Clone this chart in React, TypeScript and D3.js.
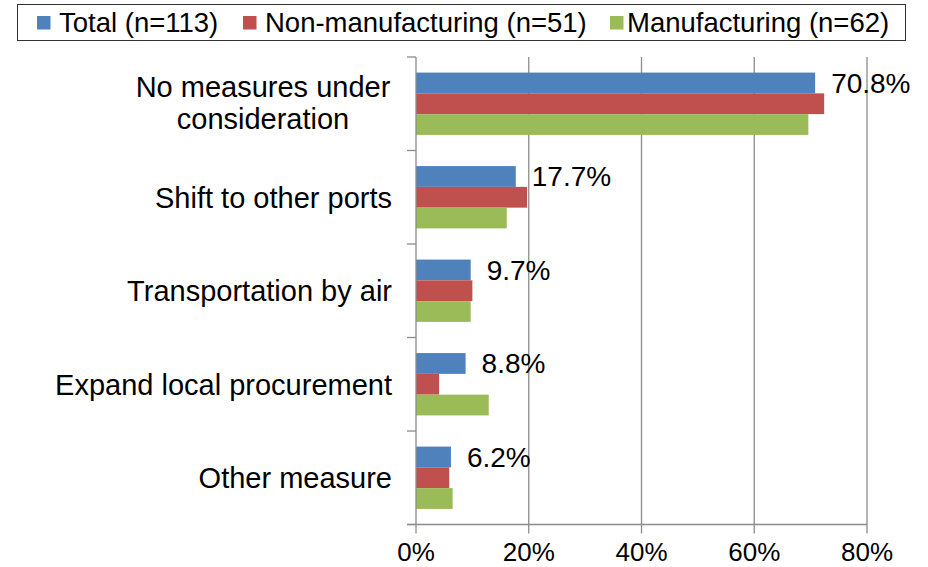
import React from "react";
import * as d3 from "d3";

// Chart values
const categories = [
  "No measures under consideration",
  "Shift to other ports",
  "Transportation by air",
  "Expand local procurement",
  "Other measure",
];
const categoryLines = [
  ["No measures under", "consideration"],
  ["Shift to other ports"],
  ["Transportation by air"],
  ["Expand local procurement"],
  ["Other measure"],
];
const seriesNames = ["Total (n=113)", "Non-manufacturing (n=51)", "Manufacturing (n=62)"];
const totalValues = [70.8, 17.7, 9.7, 8.8, 6.2];
const nonManufacturingValues = [72.4, 19.7, 10.0, 4.1, 5.9];
const manufacturingValues = [69.6, 16.1, 9.7, 12.9, 6.5];
const xTickValues = [0, 20, 40, 60, 80];

const colors = ["#4F81BD", "#C0504D", "#9BBB59"];
const FONT = "'Liberation Sans', Arial, sans-serif";

const width = 928,
  height = 567;
const plot = { left: 416, right: 867, top: 57, bottom: 524.5 };

const App: React.FC = () => {
  const seriesValues = [totalValues, nonManufacturingValues, manufacturingValues];

  const x = d3.scaleLinear().domain([0, 80]).range([plot.left, plot.right]);
  const y = d3.scaleBand<string>().domain(categories).range([plot.top, plot.bottom]).padding(0);
  // Excel-like gap width of 150%
  const inner = d3
    .scaleBand<string>()
    .domain(seriesNames)
    .range([0, y.bandwidth()])
    .paddingInner(0)
    .paddingOuter(0.75);

  const axisColor = "#8c8c8c";
  const boundaries = categories.map((c) => y(c) as number).concat([plot.bottom]);

  // legend layout
  const legendSquareX = [37, 243, 610];
  const legendTextX = [59, 265, 627];

  return (
    <svg
      width={width}
      height={height}
      style={{ position: "absolute", left: 0, top: 0, background: "#fff" }}
      fontFamily={FONT}
    >
      {/* legend */}
      <rect x={17.5} y={4.5} width={888} height={36} fill="#fff" stroke="#333" strokeWidth={1} />
      {seriesNames.map((s, i) => (
        <g key={s}>
          <rect x={legendSquareX[i]} y={16} width={13.5} height={13.5} fill={colors[i]} />
          <text x={legendTextX[i]} y={32} fontSize={27.5} fill="#000">
            {s}
          </text>
        </g>
      ))}

      {/* gridlines */}
      {xTickValues.slice(1).map((t) => (
        <line key={t} x1={x(t)} x2={x(t)} y1={plot.top} y2={plot.bottom} stroke={axisColor} strokeWidth={1.3} />
      ))}

      {/* bars */}
      {categories.map((c, ci) => (
        <g key={c} transform={`translate(0,${y(c)})`}>
          {seriesNames.map((s, si) => (
            <rect
              key={s}
              x={x(0)}
              y={inner(s)}
              width={x(seriesValues[si][ci]) - x(0)}
              height={inner.bandwidth()}
              fill={colors[si]}
            />
          ))}
          {/* value label for Total */}
          <text
            x={x(totalValues[ci]) + 16}
            y={(inner(seriesNames[0]) as number) + inner.bandwidth() / 2 + 10}
            fontSize={28}
            fill="#000"
          >
            {totalValues[ci].toFixed(1) + "%"}
          </text>
        </g>
      ))}

      {/* y axis */}
      <line x1={plot.left} x2={plot.left} y1={plot.top} y2={plot.bottom} stroke={axisColor} strokeWidth={1.3} />
      {boundaries.map((b, i) => (
        <line key={i} x1={plot.left - 9} x2={plot.left} y1={b} y2={b} stroke={axisColor} strokeWidth={1.3} />
      ))}
      {categories.map((c, ci) => {
        const lines = categoryLines[ci];
        const cy = (y(c) as number) + y.bandwidth() / 2;
        const lh = 31.7;
        if (lines.length === 1) {
          return (
            <text key={c} x={392} y={cy + 10.4} fontSize={29} textAnchor="end" fill="#000">
              {lines[0]}
            </text>
          );
        }
        return (
          <text key={c} x={263} fontSize={29} textAnchor="middle" fill="#000">
            {lines.map((l, li) => (
              <tspan key={li} x={263} y={cy + 9 + (li - (lines.length - 1) / 2) * lh}>
                {l}
              </tspan>
            ))}
          </text>
        );
      })}

      {/* x axis */}
      <line x1={plot.left - 9} x2={plot.right} y1={plot.bottom} y2={plot.bottom} stroke={axisColor} strokeWidth={1.3} />
      {xTickValues.map((t) => (
        <g key={t}>
          <line x1={x(t)} x2={x(t)} y1={plot.bottom} y2={plot.bottom + 9} stroke={axisColor} strokeWidth={1.3} />
          <text x={x(t)} y={561} fontSize={26} textAnchor="middle" fill="#000">
            {t + "%"}
          </text>
        </g>
      ))}
    </svg>
  );
};

export default App;
